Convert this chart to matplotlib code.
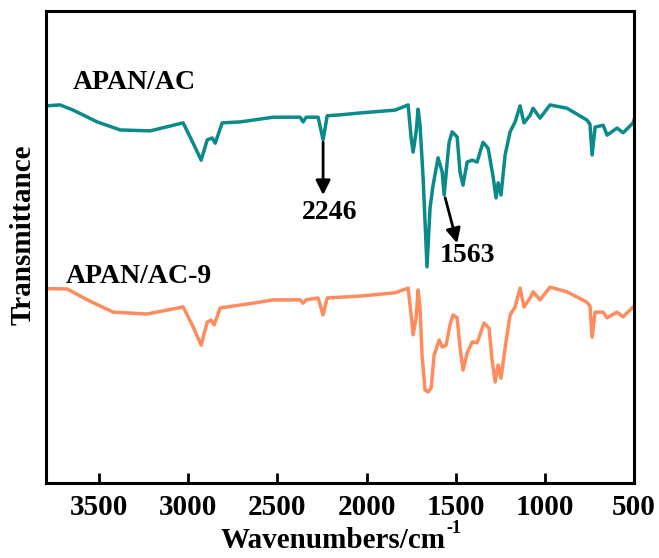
import matplotlib
matplotlib.use("Agg")
import matplotlib.pyplot as plt
import numpy as np

plt.rcParams['font.family'] = ['Liberation Serif', 'DejaVu Serif']
plt.rcParams['font.weight'] = 'bold'

# APAN/AC spectrum (wavenumber cm^-1, transmittance a.u.)
wn_ac = [3800, 3719, 3646, 3511, 3382, 3214, 3029, 2973, 2928, 2894, 2866, 2849, 2810,
         2709, 2524, 2373, 2356, 2339, 2272, 2244, 2221, 2148, 2036, 1840, 1767, 1750,
         1739, 1722, 1711, 1700, 1683, 1661, 1644, 1627, 1599, 1576, 1565, 1548, 1537,
         1520, 1492, 1476, 1459, 1436, 1408, 1380, 1347, 1318, 1290, 1274, 1262, 1246,
         1223, 1195, 1167, 1139, 1117, 1083, 1066, 1027, 971, 876, 764, 747, 735, 718,
         673, 651, 595, 561, 505, 500]
t_ac = [79.9, 80.1, 79.0, 76.5, 74.8, 74.6, 76.3, 72.0, 68.4, 72.7, 73.1, 72.0, 76.3,
        76.5, 77.5, 77.5, 76.5, 77.5, 77.5, 72.7, 77.8, 78.0, 78.4, 79.0, 80.1, 73.1,
        70.1, 74.4, 79.2, 75.8, 64.6, 45.8, 58.3, 63.1, 68.9, 65.9, 61.0, 68.0, 72.2,
        74.4, 73.3, 65.9, 63.1, 68.0, 68.4, 68.0, 72.2, 70.9, 64.8, 60.4, 63.6, 61.0,
        69.5, 74.4, 76.5, 79.9, 76.3, 77.9, 79.4, 77.3, 80.1, 79.4, 76.9, 76.0, 69.5, 75.4,
        75.8, 73.7, 75.2, 74.2, 76.3, 76.9]

# APAN/AC-9 spectrum
wn_ac9 = [3800, 3679, 3567, 3421, 3231, 3029, 2973, 2928, 2894, 2872, 2855, 2821, 2636,
          2524, 2373, 2356, 2339, 2272, 2244, 2221, 2036, 1840, 1767, 1750, 1739, 1722,
          1711, 1700, 1689, 1672, 1655, 1638, 1621, 1593, 1576, 1554, 1532, 1515, 1492,
          1476, 1459, 1436, 1408, 1380, 1341, 1313, 1296, 1279, 1262, 1246, 1223, 1195,
          1167, 1139, 1117, 1083, 1066, 1027, 971, 876, 764, 747, 735, 718, 673, 651,
          595, 561, 505, 500]
t_ac9 = [41.2, 41.1, 38.8, 36.2, 35.8, 37.3, 33.1, 29.2, 34.1, 34.5, 33.5, 37.1, 38.1,
         38.8, 38.8, 38.1, 38.8, 39.2, 35.6, 39.2, 39.6, 40.3, 41.3, 35.6, 31.4, 35.0,
         40.9, 37.1, 27.1, 19.7, 19.3, 20.1, 27.1, 30.3, 28.8, 29.2, 33.5, 35.6, 35.0,
         28.8, 23.9, 27.5, 29.9, 29.7, 33.9, 32.8, 26.1, 21.4, 25.0, 22.2, 28.6, 35.6,
         37.3, 41.3, 37.3, 39.2, 40.5, 38.8, 41.5, 40.5, 38.3, 37.5, 30.9, 36.2, 36.2, 35.0,
         36.2, 35.2, 37.3, 37.5]

xticks = [3500, 3000, 2500, 2000, 1500, 1000, 500]

fig = plt.figure(figsize=(6.59, 5.58), dpi=100)
ax = fig.add_axes([45.7/659, 1-483/558, (634-45.7)/659, (483-11)/558])

ax.plot(wn_ac, t_ac, color='#0b8a8a', lw=2.5)
ax.plot(wn_ac9, t_ac9, color='#ff8c5e', lw=2.5)

ax.set_xlim(3800, 500)
ax.set_ylim(0, 100)
ax.set_xticks(xticks)
ax.set_xticklabels([str(v) for v in xticks])
ax.set_yticks([])
ax.tick_params(axis='x', direction='in', length=7, width=2, labelsize=21, pad=8, top=False)
for s in ax.spines.values():
    s.set_linewidth(2.2)

ax.text(3646, 83.5, 'APAN/AC', fontsize=20, fontweight='bold', ha='left', va='baseline')
ax.text(3685, 42.4, 'APAN/AC-9', fontsize=20, fontweight='bold', ha='left', va='baseline')

ax.annotate('', xy=(2244, 61.0), xytext=(2244, 72.2),
            arrowprops=dict(arrowstyle='-|>', color='black', lw=2, mutation_scale=22,
                            shrinkA=0, shrinkB=0))
ax.text(2205, 57.4, '2246', fontsize=20, fontweight='bold', ha='center', va='center')
ax.annotate('', xy=(1492, 50.8), xytext=(1559, 60.4),
            arrowprops=dict(arrowstyle='-|>', color='black', lw=2, mutation_scale=22,
                            shrinkA=0, shrinkB=0))
ax.text(1436, 48.1, '1563', fontsize=20, fontweight='bold', ha='center', va='center')

fig.text(23/659, 1-235/558, 'Transmittance', rotation=90, fontsize=21, fontweight='bold',
         ha='center', va='center')

# x label with superscript -1
xl = fig.text(333/659, 1-548/558, 'Wavenumbers/cm', fontsize=21, fontweight='bold',
              ha='center', va='baseline')
fig.canvas.draw()
bb = xl.get_window_extent(renderer=fig.canvas.get_renderer())
fig.text((bb.x1 + 1)/659, (558-548+15)/558, '-1', fontsize=13, fontweight='bold',
         ha='left', va='baseline')

fig.savefig('out.png', dpi=100)
